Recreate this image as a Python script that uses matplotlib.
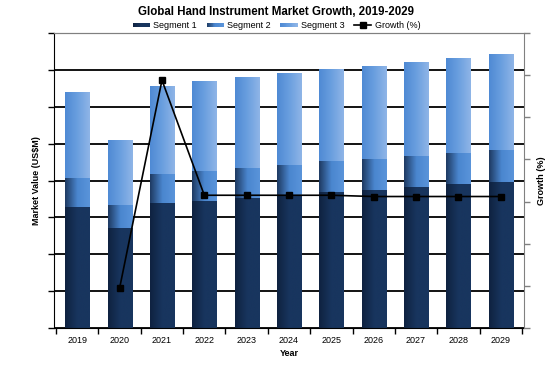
import numpy as np
import matplotlib
matplotlib.use("Agg")
import matplotlib.pyplot as plt
from matplotlib.colors import LinearSegmentedColormap
from matplotlib.legend_handler import HandlerBase
from matplotlib.patches import Rectangle
from matplotlib.lines import Line2D

years = ["2019", "2020", "2021", "2022", "2023", "2024", "2025", "2026", "2027", "2028", "2029"]
segment1 = [3.28, 2.71, 3.39, 3.44, 3.52, 3.60, 3.68, 3.74, 3.82, 3.90, 3.96]
segment2 = [0.79, 0.62, 0.78, 0.81, 0.82, 0.82, 0.84, 0.84, 0.84, 0.84, 0.86]
segment3 = [2.33, 1.76, 2.39, 2.44, 2.46, 2.49, 2.50, 2.52, 2.55, 2.58, 2.62]
growth = [np.nan, -20.5, 28.8, 1.5, 1.5, 1.5, 1.5, 1.2, 1.2, 1.2, 1.2]

plt.rcParams['font.family'] = ['Liberation Sans', 'DejaVu Sans']

grad1 = ["#0f2240", "#18355e", "#18355e"]
grad2 = ["#1e3a62", "#4a86cf", "#5a94da"]
grad3 = ["#4f8ad4", "#6a9fdf", "#8fb5e7"]
cmaps = [LinearSegmentedColormap.from_list("g%d" % i, g) for i, g in enumerate([grad1, grad2, grad3])]

fig = plt.figure(figsize=(5.53, 3.72), dpi=100)
ax = fig.add_axes([54/553, 1-328/372, 470/553, 295/372])
ax2 = ax.twinx()

x = np.arange(len(years))
width = 0.57
bottoms = np.zeros(len(years))
grad_img = np.linspace(0, 1, 64).reshape(1, -1)
for seg, cm in zip([segment1, segment2, segment3], cmaps):
    bars = ax.bar(x, seg, width, bottom=bottoms, color=cm(0.7), edgecolor='none', zorder=2)
    for b in bars:
        x0, y0 = b.get_x(), b.get_y()
        im = ax.imshow(grad_img, cmap=cm, aspect='auto',
                       extent=[x0, x0 + b.get_width(), y0, y0 + b.get_height()],
                       zorder=2.1, interpolation='bilinear')
        im.set_clip_path(b)
    bottoms += np.array(seg)

ax.set_xlim(-0.55, len(years) - 0.45)
ax.set_ylim(0, 8)
ax.set_yticks(np.arange(0, 9, 1))
ax.set_yticklabels([])
ax.yaxis.grid(True, color='black', linewidth=1.3, zorder=1)
ax.tick_params(axis='y', length=4, width=1, color='black', direction='out')
ax.set_xticks(x)
ax.set_xticklabels(years, fontsize=6.5)
ax.tick_params(axis='x', length=0, pad=6)
ax.set_xticks(np.arange(-0.5, len(years), 1), minor=True)
ax.tick_params(axis='x', which='minor', length=4, width=1, color='black')
ax.spines['top'].set_color('#808080')
ax.spines['right'].set_visible(False)
ax.spines['left'].set_color('black')
ax.spines['bottom'].set_color('black')
ax.set_xlabel("Year", fontsize=6.5, fontweight='bold', labelpad=2.5)
ax.set_ylabel("Market Value (US$M)", fontsize=6.5, fontweight='bold', labelpad=1.5)

ax2.plot(x, growth, color='black', linewidth=1.2, marker='s', markersize=4.5, zorder=5)
ax2.set_ylim(-30, 40)
ax2.set_yticks(np.arange(-30, 41, 10))
ax2.set_yticklabels([])
ax2.tick_params(axis='y', length=4, width=1, color='#808080', direction='out')
ax2.spines['right'].set_color('#808080')
ax2.spines['top'].set_color('#808080')
ax2.spines['left'].set_visible(False)
ax2.spines['bottom'].set_visible(False)
ax2.set_ylabel("Growth (%)", fontsize=6.5, fontweight='bold', rotation=90, labelpad=1.5)


class GradientHandler(HandlerBase):
    def __init__(self, cmap):
        super().__init__()
        self.cmap = cmap

    def create_artists(self, legend, orig_handle, xdescent, ydescent, width, height, fontsize, trans):
        n = 20
        arts = []
        h = height * 0.6
        yb = -ydescent + (height - h) / 2
        for i in range(n):
            r = Rectangle((-xdescent + width * i / n, yb), width / n * 1.05, h,
                          facecolor=self.cmap(i / (n - 1)), edgecolor='none', transform=trans)
            arts.append(r)
        return arts


handles = [Rectangle((0, 0), 1, 1) for _ in range(3)] + [
    Line2D([], [], color='black', linewidth=1.2, marker='s', markersize=4.5)]
labels = ["Segment 1", "Segment 2", "Segment 3", "Growth (%)"]
handler_map = {handles[i]: GradientHandler(cmaps[i]) for i in range(3)}
fig.legend(handles, labels, handler_map=handler_map, loc='center', bbox_to_anchor=(0.5, 1 - 26/372),
           ncol=4, frameon=False, fontsize=6.5, handlelength=1.9, columnspacing=1.1, handletextpad=0.35)

fig.suptitle("Global Hand Instrument Market Growth, 2019-2029", fontsize=8.3, fontweight='bold',
             y=1 - 12/372, va='center')

fig.savefig("out.png", dpi=100)
